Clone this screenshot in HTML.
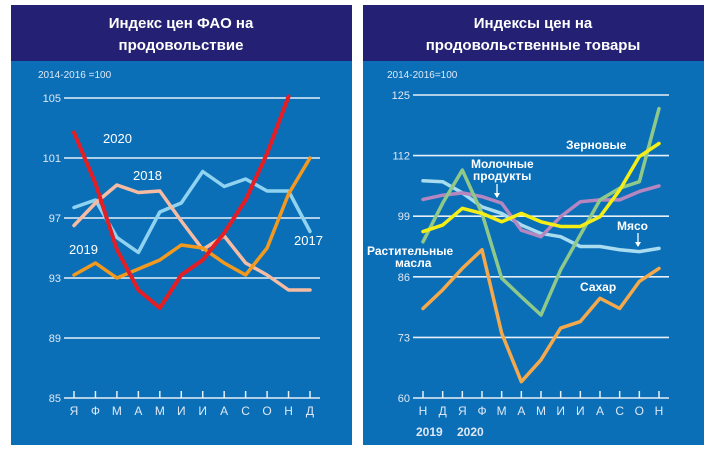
<!DOCTYPE html>
<html><head><meta charset="utf-8">
<style>
body{margin:0;background:#fff;width:717px;height:455px;overflow:hidden}
svg{display:block;font-family:"Liberation Sans","DejaVu Sans",sans-serif}
</style></head>
<body>
<svg id="c" width="717" height="455">
<rect x="11" y="5" width="341" height="440" fill="#0b6fb7"/>
<rect x="11" y="5" width="341" height="56" fill="#242174"/>
<text x="181" y="28" fill="#fff" font-size="15" font-weight="bold" text-anchor="middle">Индекс цен ФАО на</text>
<text x="181" y="50" fill="#fff" font-size="15" font-weight="bold" text-anchor="middle">продовольствие</text>
<text x="38" y="78" fill="#dfe8f5" font-size="10">2014-2016 =100</text>
<rect x="363" y="5" width="341" height="440" fill="#0b6fb7"/>
<rect x="363" y="5" width="341" height="56" fill="#242174"/>
<text x="533" y="28" fill="#fff" font-size="15" font-weight="bold" text-anchor="middle">Индексы цен на</text>
<text x="533" y="50" fill="#fff" font-size="15" font-weight="bold" text-anchor="middle">продовольственные товары</text>
<text x="387" y="78" fill="#dfe8f5" font-size="10">2014-2016=100</text>
<g id="L"></g><g id="R"></g>
</svg>
<script>
const leftMonths=["Я","Ф","М","А","М","И","И","А","С","О","Н","Д"];
const leftTicks=[85,89,93,97,101,105];
const s2017=[97.7,98.2,95.7,94.7,97.4,98.0,100.1,99.1,99.6,98.8,98.8,96.1];
const s2018=[96.5,98.0,99.2,98.7,98.8,96.8,94.9,95.8,94.0,93.2,92.2,92.2];
const s2019=[93.2,94.0,93.0,93.6,94.2,95.2,95.0,94.0,93.2,95.0,98.6,101.0];
const s2020=[102.7,99.3,94.9,92.2,91.0,93.2,94.2,96.0,98.2,101.3,105.1];

const rightMonths=["Н","Д","Я","Ф","М","А","М","И","И","А","С","О","Н"];
const rightTicks=[60,73,86,99,112,125];
const sugar=[79.2,83.2,87.8,91.8,73.9,63.5,68.2,75.0,76.4,81.4,79.2,85.0,87.8];
const oils=[93.5,101.8,108.9,99.6,85.7,81.7,77.8,87.5,95.0,102.5,105.0,106.4,122.1];
const cereals=[95.7,97.1,100.7,99.6,97.8,99.6,97.8,96.8,96.8,98.9,104.6,111.8,114.6];
const dairy=[102.6,103.5,104.0,103.2,101.8,96.0,94.6,98.9,102.1,102.5,102.5,104.3,105.5];
const meat=[106.6,106.4,104.0,101.0,99.6,97.1,95.3,94.6,92.5,92.5,91.8,91.4,92.1];

const NS="http://www.w3.org/2000/svg";
function mk(p,t,a){const e=document.createElementNS(NS,t);for(const k in a)e.setAttribute(k,a[k]);p.appendChild(e);return e;}

function chart(g,cfg){
  const x=i=>cfg.x0+i*(cfg.x1-cfg.x0)/(cfg.n-1);
  const y=v=>cfg.yTop+(cfg.vMax-v)*(cfg.yBot-cfg.yTop)/(cfg.vMax-cfg.vMin);
  cfg.ticks.forEach(t=>{
    const l=mk(g,"line",{x1:cfg.gx0,x2:cfg.gx1,y1:y(t),y2:y(t),stroke:"#e6eef8","stroke-width":1.6});
    
    
    const tx=mk(g,"text",{x:cfg.gx0-3,y:y(t)+4,fill:"#dfe8f5","font-size":11,"text-anchor":"end"});
    tx.textContent=t;
    
    
  });
  cfg.months.forEach((m,i)=>{
    const tk=mk(g,"line",{x1:x(i),x2:x(i),y1:y(cfg.vMin)-7,y2:y(cfg.vMin),stroke:"#e6eef8","stroke-width":1.5});
    
    
    const tx=mk(g,"text",{x:x(i),y:y(cfg.vMin)+17,fill:"#dfe8f5","font-size":12,"text-anchor":"middle"});
    tx.textContent=m;
    
    
  });
  cfg.series.forEach(s=>{
    const p=mk(g,"polyline",{points:s.d.map((v,i)=>x(i)+","+y(v)).join(" "),fill:"none",stroke:s.c,"stroke-width":s.w||3.5,"stroke-linejoin":"round","stroke-linecap":"round"});
    
    
  });
}
chart(document.getElementById("L"),{x0:74,x1:310,n:12,gx0:64,gx1:320,yTop:98,yBot:398,vMin:85,vMax:105,ticks:leftTicks,months:leftMonths,
 series:[{n:"2017",d:s2017,c:"#8fd3f0"},{n:"2018",d:s2018,c:"#f6bca3"},{n:"2019",d:s2019,c:"#f39a1e"},{n:"2020",d:s2020,c:"#e31e24",w:4}]});
chart(document.getElementById("R"),{x0:423,x1:659,n:13,gx0:413,gx1:669,yTop:95,yBot:398,vMin:60,vMax:125,ticks:rightTicks,months:rightMonths,
 series:[{n:"meat",d:meat,c:"#a9dcef"},{n:"dairy",d:dairy,c:"#b686c0"},{n:"sugar",d:sugar,c:"#f5a94a"},{n:"oils",d:oils,c:"#8fc98a"},{n:"cereals",d:cereals,c:"#f5ee16"}]});

const labels=[
 [103,143,"2020",13,"normal","#fff"],[133,180,"2018",13,"normal","#fff"],[69,254,"2019",13,"normal","#fff"],[294,245,"2017",13,"normal","#fff"],
 [566,149,"Зерновые",12,"bold","#fff"],[471,168,"Молочные",12,"bold","#fff"],[473,180,"продукты",12,"bold","#fff"],
 [617,230,"Мясо",12,"bold","#fff"],[367,255,"Растительные",12,"bold","#fff"],[395,267,"масла",12,"bold","#fff"],
 [580,291,"Сахар",12,"bold","#fff"],[416,436,"2019",12,"bold","#dfe8f5"],[457,436,"2020",12,"bold","#dfe8f5"]];
const svg=document.getElementById("c");
labels.forEach(l=>{const t=mk(svg,"text",{x:l[0],y:l[1],"font-size":l[3],"font-weight":l[4],fill:l[5]});t.textContent=l[2];
 
 });
[[497,184,497,197],[638,233,638,246]].forEach(a=>{
 const ln=mk(svg,"line",{x1:a[0],y1:a[1],x2:a[2],y2:a[3],stroke:"#fff","stroke-width":1.3});
 
 
 const h=mk(svg,"polygon",{points:(a[2]-3)+","+(a[3]-4)+" "+(a[2]+3)+","+(a[3]-4)+" "+a[2]+","+(a[3]+1),fill:"#fff"});
 
 
});
</script>
</body></html>
